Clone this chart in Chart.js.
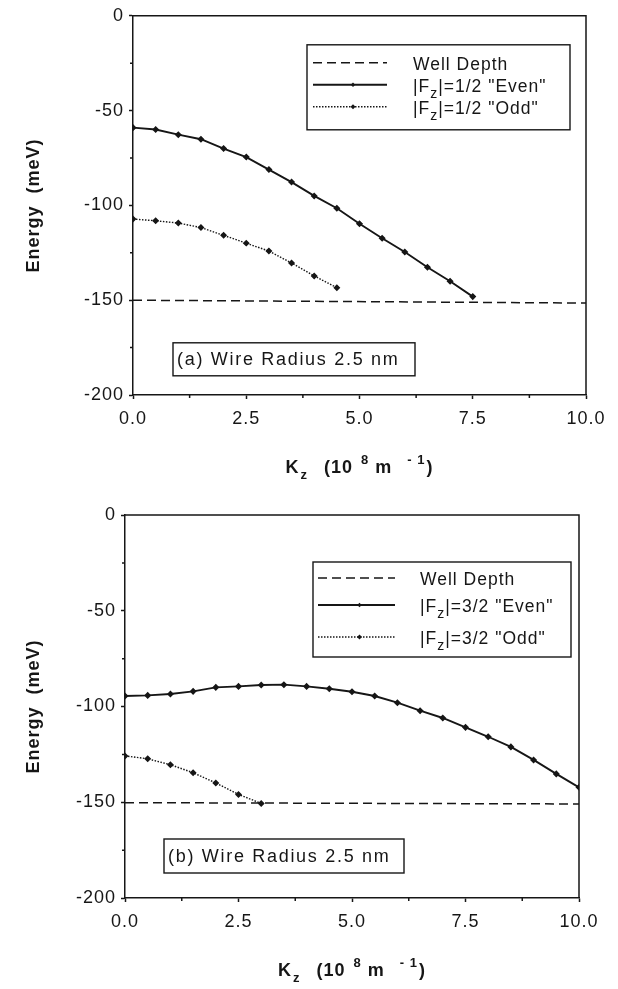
<!DOCTYPE html>
<html>
<head>
<meta charset="utf-8">
<script src="https://cdn.jsdelivr.net/npm/chart.js@4.4.1/dist/chart.umd.min.js"></script>
<style>
html, body { margin: 0; padding: 0; background: #fff; }
body { width: 618px; height: 989px; position: relative; overflow: hidden; }
canvas { position: absolute; left: 0; }
#chartA { top: 0; }
#chartB { top: 494px; }
</style>
</head>
<body>
<canvas id="chartA" width="618" height="494"></canvas>
<canvas id="chartB" width="618" height="495"></canvas>
<script>
// panel (a): |Fz| = 1/2
const kzEvenA = [0, 0.5, 1, 1.5, 2, 2.5, 3, 3.5, 4, 4.5, 5, 5.5, 6, 6.5, 7, 7.5];
const energyEvenA = [-59.0, -60.0, -62.7, -65.1, -70.0, -74.5, -81.1, -87.7, -95.0, -101.5, -109.7, -117.3, -124.6, -132.6, -140.0, -148.1];
const kzOddA = [0, 0.5, 1, 1.5, 2, 2.5, 3, 3.5, 4, 4.5];
const energyOddA = [-107.2, -108.1, -109.3, -111.7, -115.8, -119.9, -124.1, -130.4, -137.2, -143.4];

// panel (b): |Fz| = 3/2
const kzEvenB = [0, 0.5, 1, 1.5, 2, 2.5, 3, 3.5, 4, 4.5, 5, 5.5, 6, 6.5, 7, 7.5, 8, 8.5, 9, 9.5, 10];
const energyEvenB = [-94.5, -94.2, -93.5, -92.1, -90.0, -89.5, -88.8, -88.6, -89.5, -90.7, -92.3, -94.5, -98.0, -102.2, -106.0, -110.9, -115.8, -121.1, -127.9, -135.2, -142.2];
const kzOddB = [0, 0.5, 1, 1.5, 2, 2.5, 3];
const energyOddB = [-125.8, -127.3, -130.4, -134.6, -139.9, -145.9, -150.6];

// well depth line (ends of the dashed line)
const kzWell = [0, 10];
const wellA = [-150, -151.5];
const wellB = [-150.2, -150.9];

const xTicks = [0, 2.5, 5, 7.5, 10];
const xTickLabels = ['0.0', '2.5', '5.0', '7.5', '10.0'];
const xMinorTicks = [1.25, 3.75, 6.25, 8.75];
const yTicks = [-200, -150, -100, -50, 0];
const yTickLabels = ['-200', '-150', '-100', '-50', '0'];
const yMinorTicks = [-175, -125, -75, -25];

const legendA = ['Well Depth', '|F_z|=1/2 "Even"', '|F_z|=1/2 "Odd"'];
const legendB = ['Well Depth', '|F_z|=3/2 "Even"', '|F_z|=3/2 "Odd"'];
const panelA = '(a) Wire Radius 2.5 nm';
const panelB = '(b) Wire Radius 2.5 nm';
const yTitle = 'Energy  (meV)';
// text, 0 = normal, 1 = subscript, -1 = superscript
const xTitleParts = [['K', 0], ['z', 1], ['(10', 0], ['8', -1], ['m', 0], ['- 1', -1], [')', 0]];

const ink = '#161616';
const family = '"Liberation Sans", Arial, sans-serif';

function toPoints(xs, ys) {
    return xs.map((x, i) => ({ x: x, y: ys[i] }));
}

function makeDatasets(labels, kzE, eE, kzO, eO, well) {
    return [
        { label: labels[0], data: toPoints(kzWell, well), borderColor: ink, borderWidth: 1.5,
          borderDash: [9, 5], pointRadius: 0 },
        { label: labels[1], data: toPoints(kzE, eE), borderColor: ink, backgroundColor: ink,
          borderWidth: 1.9, pointRadius: 2.2, pointStyle: 'rectRot' },
        { label: labels[2], data: toPoints(kzO, eO), borderColor: ink, backgroundColor: ink,
          borderWidth: 1.4, borderDash: [1.5, 1.5], pointRadius: 2.5, pointStyle: 'rectRot' }
    ];
}

function diamond(ctx, x, y, r) {
    ctx.beginPath();
    ctx.moveTo(x, y - r);
    ctx.lineTo(x + r, y);
    ctx.lineTo(x, y + r);
    ctx.lineTo(x - r, y);
    ctx.closePath();
    ctx.fill();
}

// frame, minor ticks, boxed legend, panel label, x axis title
const paperDecor = {
    id: 'paperDecor',
    beforeDraw(chart) {
        chart.ctx.letterSpacing = '1px';
    },
    afterDraw(chart, args, opts) {
        const ctx = chart.ctx;
        const a = chart.chartArea;
        const xs = chart.scales.x;
        const ys = chart.scales.y;
        ctx.save();
        ctx.strokeStyle = ink;
        ctx.fillStyle = ink;
        ctx.lineWidth = 1.5;
        ctx.setLineDash([]);

        ctx.beginPath();
        ctx.moveTo(a.left, a.top);
        ctx.lineTo(a.right, a.top);
        ctx.lineTo(a.right, a.bottom);
        ctx.stroke();

        ctx.beginPath();
        xMinorTicks.forEach(v => {
            const px = xs.getPixelForValue(v);
            ctx.moveTo(px, a.bottom);
            ctx.lineTo(px, a.bottom + 3);
        });
        yMinorTicks.forEach(v => {
            const py = ys.getPixelForValue(v);
            ctx.moveTo(a.left - 3, py);
            ctx.lineTo(a.left, py);
        });
        ctx.stroke();

        // legend
        const L = opts.legend;
        const bx = a.left + L.left, by = a.top + L.top;
        ctx.lineWidth = 1.4;
        ctx.strokeRect(bx, by, L.width, L.height);
        ctx.letterSpacing = '1px';
        ctx.textBaseline = 'middle';
        ctx.textAlign = 'left';
        chart.data.datasets.forEach((ds, i) => {
            const ly = by + L.rows[i];
            const x0 = bx + L.sample, x1 = x0 + L.sampleLen;
            ctx.lineWidth = ds.borderWidth;
            ctx.setLineDash(ds.borderDash || []);
            ctx.beginPath();
            ctx.moveTo(x0, ly - 2);
            ctx.lineTo(x1, ly - 2);
            ctx.stroke();
            ctx.setLineDash([]);
            if (ds.pointRadius > 0) diamond(ctx, (x0 + x1) / 2 + 3, ly - 2, ds.pointRadius);
            const parts = ds.label.split('_z');
            let tx = bx + L.text;
            ctx.font = '17.5px ' + family;
            ctx.fillText(parts[0], tx, ly);
            if (parts.length > 1) {
                tx += ctx.measureText(parts[0]).width;
                ctx.font = '14px ' + family;
                ctx.fillText('z', tx, ly + 7);
                tx += ctx.measureText('z').width;
                ctx.font = '17.5px ' + family;
                ctx.fillText(parts[1], tx, ly);
            }
        });

        // panel label box
        const P = opts.panel;
        const px = a.left + P.left, py = a.top + P.top;
        ctx.lineWidth = 1.4;
        ctx.strokeRect(px, py, P.width, P.height);
        ctx.letterSpacing = '1.7px';
        ctx.font = '18px ' + family;
        ctx.fillText(P.text, px + 4, py + P.height / 2 + 1);

        // x axis title with sub/superscripts
        const gaps = [0, 1, 16, 8, 6, 15, 1];
        ctx.letterSpacing = '1px';
        const big = 'bold 18px ' + family, small = 'bold 13px ' + family;
        let total = 0;
        const widths = xTitleParts.map((p, i) => {
            ctx.font = p[1] === 0 ? big : small;
            const w = ctx.measureText(p[0]).width;
            total += w + gaps[i];
            return w;
        });
        let tx = (a.left + a.right) / 2 - total / 2;
        const base = a.bottom + 78;
        ctx.textBaseline = 'alphabetic';
        xTitleParts.forEach((p, i) => {
            tx += gaps[i];
            ctx.font = p[1] === 0 ? big : small;
            const dy = p[1] === 1 ? 6 : (p[1] === -1 ? -9 : 0);
            ctx.fillText(p[0], tx, base + dy);
            tx += widths[i];
        });
        ctx.restore();
    }
};

function makeChart(id, datasets, decor) {
    return new Chart(document.getElementById(id), {
        type: 'line',
        data: { datasets: datasets },
        options: {
            responsive: false,
            animation: false,
            layout: { padding: { top: decor.padTop, right: decor.padRight, left: 0, bottom: 0 } },
            scales: {
                x: {
                    type: 'linear', min: 0, max: 10,
                    afterBuildTicks: s => { s.ticks = xTicks.map(v => ({ value: v })); },
                    afterFit: s => { s.height = decor.xHeight; },
                    ticks: { callback: (v, i) => xTickLabels[i], color: ink, padding: 9,
                             maxRotation: 0, autoSkip: false, font: { family: family, size: 18 } },
                    grid: { drawOnChartArea: false, drawTicks: true, tickLength: 4, tickColor: ink, tickWidth: 1.5 },
                    border: { color: ink, width: 1.5 }
                },
                y: {
                    type: 'linear', min: -200, max: 0,
                    afterBuildTicks: s => { s.ticks = yTicks.map(v => ({ value: v })); },
                    afterFit: s => { s.width = decor.yWidth; },
                    ticks: { callback: (v, i) => yTickLabels[i], color: ink, padding: 5,
                             autoSkip: false, font: { family: family, size: 18 } },
                    grid: { drawOnChartArea: false, drawTicks: true, tickLength: 4, tickColor: ink, tickWidth: 1.5 },
                    border: { color: ink, width: 1.5 },
                    title: { display: true, text: yTitle, color: ink, padding: { top: 23, bottom: 0 },
                             font: { family: family, size: 18, weight: 'bold' } }
                }
            },
            plugins: { legend: { display: false }, tooltip: { enabled: false }, paperDecor: decor }
        },
        plugins: [paperDecor]
    });
}

makeChart('chartA', makeDatasets(legendA, kzEvenA, energyEvenA, kzOddA, energyOddA, wellA), {
    padTop: 12, padRight: 32, yWidth: 133, xHeight: 99,
    legend: { left: 174, top: 29, width: 263, height: 85, rows: [20, 42, 64], sample: 6, sampleLen: 74, text: 106 },
    panel: { left: 40, top: 327, width: 242, height: 33, text: panelA }
});

makeChart('chartB', makeDatasets(legendB, kzEvenB, energyEvenB, kzOddB, energyOddB, wellB), {
    padTop: 21, padRight: 39, yWidth: 125, xHeight: 91,
    legend: { left: 188, top: 47, width: 258, height: 95, rows: [18, 45, 77], sample: 5, sampleLen: 77, text: 107 },
    panel: { left: 39, top: 324, width: 240, height: 34, text: panelB }
});
</script>
</body>
</html>
